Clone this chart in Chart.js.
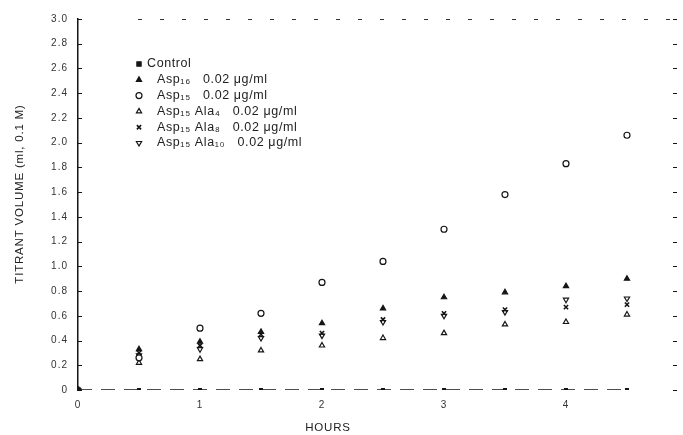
<!DOCTYPE html>
<html>
<head>
<meta charset="utf-8">
<script src="https://cdn.jsdelivr.net/npm/chart.js@4/dist/chart.umd.min.js"></script>
<style>
    html, body { margin: 0; padding: 0; background: #fff; }
    #wrap { width: 683px; height: 435px; }
</style>
</head>
<body>
<div id="wrap"><canvas id="titrantChart" width="683" height="435"></canvas></div>
<script>
// --- data ---
const hours = [0, 0.5, 1, 1.5, 2, 2.5, 3, 3.5, 4, 4.5];
const controlVals = [0, 0, 0, 0, 0, 0, 0, 0, 0, 0];
const aspAVals = [0, 0.33, 0.39, 0.47, 0.54, 0.66, 0.75, 0.79, 0.84, 0.90];
const aspBVals = [0, 0.26, 0.50, 0.62, 0.87, 1.04, 1.30, 1.58, 1.83, 2.06];
const ala4Vals = [0, 0.22, 0.25, 0.32, 0.36, 0.42, 0.46, 0.53, 0.55, 0.61];
const ala8Vals = [0, 0.30, 0.36, 0.45, 0.46, 0.57, 0.62, 0.65, 0.67, 0.69];
const ala10Vals = [0, 0.28, 0.33, 0.42, 0.44, 0.55, 0.60, 0.63, 0.73, 0.74];

const seriesLabels = [
    'Control',
    'Asp\u2081\u2086   0.02 \u03bcg/ml',
    'Asp\u2081\u2085   0.02 \u03bcg/ml',
    'Asp\u2081\u2085 Ala\u2084   0.02 \u03bcg/ml',
    'Asp\u2081\u2085 Ala\u2088   0.02 \u03bcg/ml',
    'Asp\u2081\u2085 Ala\u2081\u2080   0.02 \u03bcg/ml'
];

const xTickValues = [0, 1, 2, 3, 4];
const yTickValues = [0, 0.2, 0.4, 0.6, 0.8, 1.0, 1.2, 1.4, 1.6, 1.8, 2.0, 2.2, 2.4, 2.6, 2.8, 3.0];

const INK = '#151515';
const FONT = "'Liberation Sans', Arial, sans-serif";

const toPoints = vals => vals.map((v, i) => ({ x: hours[i], y: v }));

function makeSet(label, vals, style, filled, extra) {
    return Object.assign({
        label: label,
        data: toPoints(vals),
        showLine: false,
        pointStyle: style,
        pointRadius: 3,
        pointBorderWidth: 1.2,
        borderColor: INK,
        pointBorderColor: INK,
        pointBackgroundColor: filled ? INK : '#fff',
        backgroundColor: filled ? INK : '#fff'
    }, extra || {});
}

const datasets = [
    makeSet(seriesLabels[0], controlVals, 'rect', true, {
        showLine: true, borderDash: [14, 9], borderWidth: 1.4, pointRadius: 2
    }),
    makeSet(seriesLabels[1], aspAVals, 'triangle', true),
    makeSet(seriesLabels[2], aspBVals, 'circle', false),
    makeSet(seriesLabels[3], ala4Vals, 'triangle', false),
    makeSet(seriesLabels[4], ala8Vals, 'crossRot', false, { pointBorderWidth: 1.6 }),
    makeSet(seriesLabels[5], ala10Vals, 'triangle', false, { pointRotation: 180 })
];

// --- frame, legend inside the plot, axis titles and inward ticks ---
const annotate = {
    id: 'annotate',
    beforeDraw(chart) {
        // the scanned lettering is widely spaced
        chart.ctx.letterSpacing = '1px';
    },
    afterDraw(chart) {
        const ctx = chart.ctx;
        const area = chart.chartArea;
        ctx.save();

        // broken top frame line
        ctx.strokeStyle = '#333';
        ctx.lineWidth = 1.2;
        ctx.setLineDash([4, 18]);
        ctx.beginPath();
        ctx.moveTo(area.left + 60, area.top + 0.5);
        ctx.lineTo(area.right, area.top + 0.5);
        ctx.stroke();
        ctx.setLineDash([]);

        // inward tick marks on left and right frame
        const yScale = chart.scales.y;
        ctx.strokeStyle = INK;
        ctx.lineWidth = 1;
        yTickValues.forEach(v => {
            const py = Math.round(yScale.getPixelForValue(v)) + 0.5;
            ctx.beginPath();
            ctx.moveTo(area.left, py);
            ctx.lineTo(area.left + 4, py);
            ctx.moveTo(area.right - 4, py);
            ctx.lineTo(area.right, py);
            ctx.stroke();
        });

        // legend
        ctx.letterSpacing = '0.6px';
        ctx.font = '12.5px ' + FONT;
        ctx.textBaseline = 'middle';
        chart.data.datasets.forEach((ds, i) => {
            const ly = 64 + i * 15.8;
            if (Chart.helpers && Chart.helpers.drawPoint) {
                ctx.fillStyle = ds.pointBackgroundColor;
                ctx.strokeStyle = ds.pointBorderColor;
                ctx.lineWidth = ds.pointBorderWidth;
                Chart.helpers.drawPoint(ctx, {
                    pointStyle: ds.pointStyle,
                    radius: 3,
                    rotation: ds.pointRotation || 0,
                    borderWidth: ds.pointBorderWidth
                }, 139, ly);
            }
            ctx.fillStyle = '#222';
            ctx.textAlign = 'left';
            ctx.fillText(ds.label, i === 0 ? 147 : 157, ly);
        });

        // axis titles
        ctx.fillStyle = '#222';
        ctx.letterSpacing = '0.8px';
        ctx.font = '11.5px ' + FONT;
        ctx.textAlign = 'center';
        ctx.fillText('HOURS', 328, 428);
        ctx.translate(20, 194);
        ctx.rotate(-Math.PI / 2);
        ctx.fillText('TITRANT VOLUME (ml, 0.1 M)', 0, 0);

        ctx.restore();
    }
};

const chartCtx = document.getElementById('titrantChart');
new Chart(chartCtx, {
    type: 'scatter',
    data: { datasets: datasets },
    options: {
        responsive: false,
        animation: false,
        devicePixelRatio: 1,
        layout: { padding: 0 },
        plugins: {
            legend: { display: false },
            tooltip: { enabled: false }
        },
        scales: {
            x: {
                type: 'linear',
                position: 'bottom',
                min: 0,
                max: 4.91,
                afterBuildTicks: scale => { scale.ticks = xTickValues.map(v => ({ value: v })); },
                afterFit: scale => { scale.height = 45; },
                grid: { display: false, drawTicks: false },
                border: { display: false },
                ticks: {
                    color: '#333',
                    padding: 9,
                    font: { family: FONT, size: 10 },
                    callback: v => String(v)
                }
            },
            xTop: {
                type: 'linear',
                position: 'top',
                min: 0,
                max: 4.91,
                afterFit: scale => { scale.height = 19; },
                grid: { display: false, drawTicks: false },
                border: { display: false },
                ticks: { display: false }
            },
            y: {
                type: 'linear',
                position: 'left',
                min: 0,
                max: 3.0,
                afterBuildTicks: scale => { scale.ticks = yTickValues.map(v => ({ value: v })); },
                afterFit: scale => { scale.width = 78; },
                grid: { display: false, drawTicks: false },
                border: { display: true, color: INK, width: 1.5 },
                ticks: {
                    color: '#333',
                    padding: 10,
                    font: { family: FONT, size: 10 },
                    callback: v => (v === 0 ? '0' : v.toFixed(1))
                }
            },
            yRight: {
                type: 'linear',
                position: 'right',
                min: 0,
                max: 3.0,
                afterFit: scale => { scale.width = 6; },
                grid: { display: false, drawTicks: false },
                border: { display: false },
                ticks: { display: false }
            }
        }
    },
    plugins: [annotate]
});
</script>
</body>
</html>
